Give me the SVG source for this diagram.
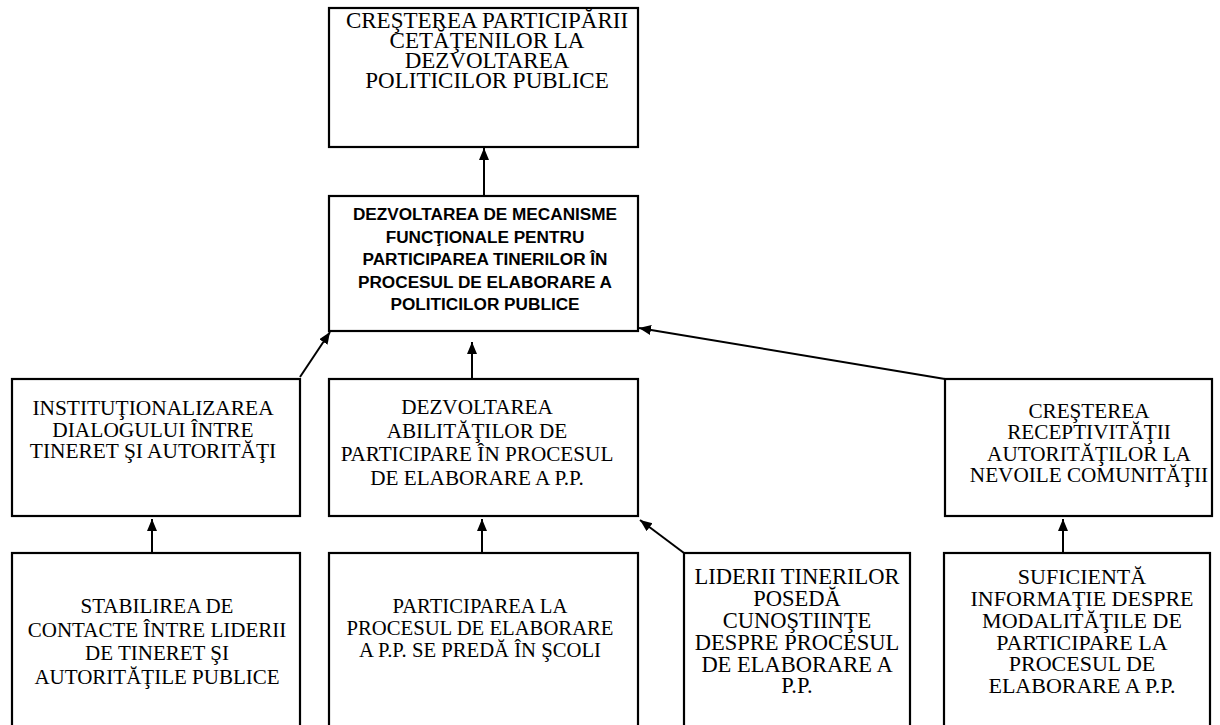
<svg xmlns="http://www.w3.org/2000/svg" width="1220" height="725" viewBox="0 0 1220 725">
<style>
.box{fill:#fff;stroke:#000;stroke-width:2.2}
.t{font-family:"Liberation Serif","Times New Roman",serif;fill:#000;text-anchor:middle}
.b{font-family:"Liberation Sans",Arial,sans-serif;font-weight:bold;fill:#000;text-anchor:middle;font-size:17.2px}
.c{stroke:#000;stroke-width:2;fill:none;marker-end:url(#ah)}
</style>
<defs>
<marker id="ah" markerUnits="userSpaceOnUse" markerWidth="14" markerHeight="12" refX="12" refY="5" orient="auto">
<path d="M0,0 L12,5 L0,10 Z" fill="#000"/>
</marker>
</defs>
<rect width="1220" height="725" fill="#fff"/>
<g id="connectors">
<line class="c" x1="484" y1="196" x2="484" y2="148"/>
<line class="c" x1="472" y1="379" x2="472" y2="342"/>
<line class="c" x1="300" y1="377" x2="330" y2="332"/>
<line class="c" x1="945" y1="379" x2="639" y2="328"/>
<line class="c" x1="152" y1="553" x2="152" y2="519"/>
<line class="c" x1="482" y1="553" x2="482" y2="519"/>
<line class="c" x1="684" y1="553" x2="640" y2="520"/>
<line class="c" x1="1063" y1="553" x2="1063" y2="519"/>
</g>
<g id="n-top">
<rect class="box" x="329" y="8" width="309" height="139"/>
<text class="t" font-size="23" x="487"><tspan x="487" y="28">CREŞTEREA PARTICIPĂRII</tspan><tspan x="487" y="48">CETĂŢENILOR LA</tspan><tspan x="487" y="68">DEZVOLTAREA</tspan><tspan x="487" y="88">POLITICILOR PUBLICE</tspan></text>
</g>
<g id="n-mid">
<rect class="box" x="329" y="196" width="309" height="135"/>
<text class="b"><tspan x="485" y="220">DEZVOLTAREA DE MECANISME</tspan><tspan x="485" y="242.5">FUNCŢIONALE PENTRU</tspan><tspan x="485" y="265">PARTICIPAREA TINERILOR ÎN</tspan><tspan x="485" y="287.5">PROCESUL DE ELABORARE A</tspan><tspan x="485" y="310">POLITICILOR PUBLICE</tspan></text>
</g>
<g id="n-l2a">
<rect class="box" x="12" y="379" width="288" height="137"/>
<text class="t" font-size="21.4"><tspan x="153" y="415">INSTITUŢIONALIZAREA</tspan><tspan x="153" y="436.7">DIALOGULUI ÎNTRE</tspan><tspan x="153" y="458.3">TINERET ŞI AUTORITĂŢI</tspan></text>
</g>
<g id="n-l2b">
<rect class="box" x="329" y="379" width="309" height="137"/>
<text class="t" font-size="21.2"><tspan x="477" y="414">DEZVOLTAREA</tspan><tspan x="477" y="437.5">ABILITĂŢILOR DE</tspan><tspan x="477" y="461">PARTICIPARE ÎN PROCESUL</tspan><tspan x="477" y="485">DE ELABORARE A P.P.</tspan></text>
</g>
<g id="n-l2c">
<rect class="box" x="945" y="379" width="267" height="137"/>
<text class="t" font-size="21.2"><tspan x="1089" y="418">CREŞTEREA</tspan><tspan x="1089" y="439">RECEPTIVITĂŢII</tspan><tspan x="1089" y="460.5">AUTORITĂŢILOR LA</tspan><tspan x="1089" y="481.7">NEVOILE COMUNITĂŢII</tspan></text>
</g>
<g id="n-b1">
<rect class="box" x="12" y="553" width="288" height="180"/>
<text class="t" font-size="21"><tspan x="157" y="613">STABILIREA DE</tspan><tspan x="157" y="636.5">CONTACTE ÎNTRE LIDERII</tspan><tspan x="157" y="660">DE TINERET ŞI</tspan><tspan x="157" y="683.5">AUTORITĂŢILE PUBLICE</tspan></text>
</g>
<g id="n-b2">
<rect class="box" x="329" y="553" width="309" height="180"/>
<text class="t" font-size="20.7"><tspan x="480" y="613">PARTICIPAREA LA</tspan><tspan x="480" y="635">PROCESUL DE ELABORARE</tspan><tspan x="480" y="657">A P.P. SE PREDĂ ÎN ŞCOLI</tspan></text>
</g>
<g id="n-b3">
<rect class="box" x="684" y="553" width="226" height="180"/>
<text class="t" font-size="22.5"><tspan x="797" y="584">LIDERII TINERILOR</tspan><tspan x="797" y="606">POSEDĂ</tspan><tspan x="797" y="627.5">CUNOŞTIINŢE</tspan><tspan x="797" y="649.5">DESPRE PROCESUL</tspan><tspan x="797" y="671.5">DE ELABORARE A</tspan><tspan x="797" y="693">P.P.</tspan></text>
</g>
<g id="n-b4">
<rect class="box" x="944" y="553" width="266" height="180"/>
<text class="t" font-size="22"><tspan x="1082" y="584">SUFICIENTĂ</tspan><tspan x="1082" y="606">INFORMAŢIE DESPRE</tspan><tspan x="1082" y="627.5">MODALITĂŢILE DE</tspan><tspan x="1082" y="649.5">PARTICIPARE LA</tspan><tspan x="1082" y="671">PROCESUL DE</tspan><tspan x="1082" y="692.7">ELABORARE A P.P.</tspan></text>
</g>
</svg>
